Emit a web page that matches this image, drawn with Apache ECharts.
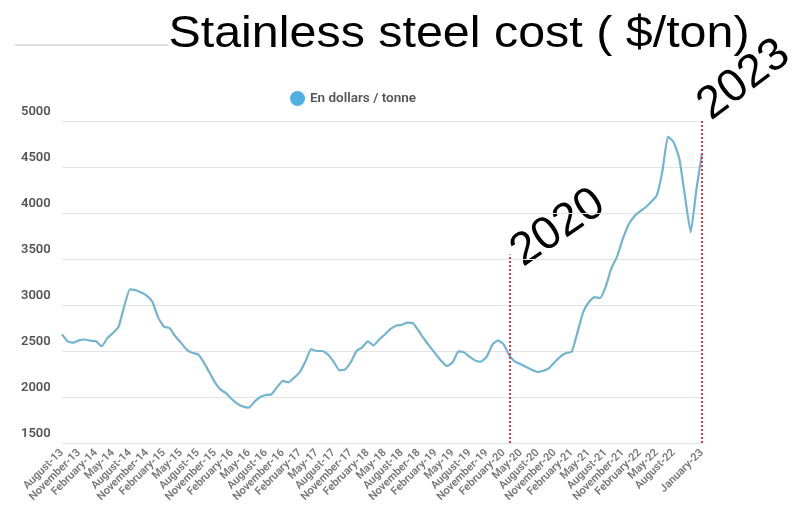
<!DOCTYPE html>
<html>
<head>
<meta charset="utf-8">
<title>Stainless steel cost</title>
<script src="https://cdn.jsdelivr.net/npm/echarts@6/dist/echarts.min.js"></script>
<style>
  html, body { margin: 0; padding: 0; background: #fff; }
  #chart { width: 803px; height: 527px; }
</style>
</head>
<body>
<div id="chart"></div>
<script>
// monthly prices, August 2013 -> January 2023
const prices = [
  2680, 2605, 2590, 2615, 2625, 2612, 2605, 2550, 2640, 2695, 2765, 2990,
  3170, 3160, 3135, 3100, 3030, 2860, 2765, 2750, 2660, 2590, 2515, 2480,
  2465, 2380, 2270, 2160, 2080, 2040, 1975, 1925, 1895, 1885, 1950, 2000,
  2022, 2030, 2110, 2175, 2160, 2210, 2270, 2390, 2520, 2500, 2500, 2460,
  2380, 2290, 2300, 2380, 2500, 2540, 2605, 2560, 2625, 2680, 2740, 2775,
  2785, 2808, 2800, 2715, 2625, 2545, 2465, 2390, 2337, 2380, 2495, 2485,
  2435, 2395, 2385, 2440, 2570, 2615, 2570, 2450, 2385, 2355, 2325, 2295,
  2272, 2285, 2315, 2380, 2440, 2478, 2492, 2700, 2920, 3030, 3085, 3075,
  3200, 3400, 3525, 3715, 3870, 3960, 4015, 4060, 4120, 4190, 4450, 4830,
  4770, 4590, 4180, 3790, 4250, 4650
];

const monthNames = ["January", "February", "March", "April", "May", "June",
  "July", "August", "September", "October", "November", "December"];

// category for every month, e.g. "August-13"
const months = [];
for (let k = 0; k < prices.length; k++) {
  const m = (7 + k) % 12;
  const y = 13 + Math.floor((7 + k) / 12);
  months.push(monthNames[m] + "-" + y);
}

// labels actually printed under the axis
const tickLabels = [
  "August-13", "November-13", "February-14", "May-14", "August-14", "November-14",
  "February-15", "May-15", "August-15", "November-15", "February-16", "May-16",
  "August-16", "November-16", "February-17", "May-17", "August-17", "November-17",
  "February-18", "May-18", "August-18", "November-18", "February-19", "May-19",
  "August-19", "November-19", "February-20", "May-20", "August-20", "November-20",
  "February-21", "May-21", "August-21", "November-21", "February-22", "May-22",
  "August-22", "January-23"
];

const yTicks = [1500, 2000, 2500, 3000, 3500, 4000, 4500, 5000];

// red dotted markers: [month, top value]
const marker2020 = ["March-20", 3550];
const marker2023 = ["January-23", 5000];

const myChart = echarts.init(document.getElementById("chart"));

const shown = new Set(tickLabels);

const option = {
  animation: false,
  backgroundColor: "#fff",
  legend: {
    data: ["En dollars / tonne"],
    left: 285,
    top: 86,
    icon: "circle",
    itemWidth: 15,
    itemHeight: 15,
    itemGap: 8,
    textStyle: {
      fontFamily: "Roboto",
      fontSize: 13.5,
      fontWeight: 600,
      color: "#555"
    }
  },
  grid: {
    left: 62,
    right: 101,
    top: 121,
    bottom: 84,
    outerBoundsMode: "none"
  },
  xAxis: {
    type: "category",
    data: months,
    boundaryGap: false,
    axisLine: { show: false },
    axisTick: { show: false },
    splitLine: { show: false },
    axisLabel: {
      interval: (index, value) => shown.has(value),
      rotate: 45,
      margin: 8,
      fontFamily: "Roboto",
      fontSize: 11,
      fontWeight: 600,
      color: "#777"
    }
  },
  yAxis: {
    type: "value",
    min: yTicks[0],
    max: yTicks[yTicks.length - 1],
    interval: 500,
    axisLine: { show: false },
    axisTick: { show: false },
    splitLine: { lineStyle: { color: "#e4e4e4", width: 1 } },
    axisLabel: {
      formatter: (v) => String(v),
      align: "left",
      verticalAlign: "bottom",
      margin: 41,
      padding: [0, 0, 3, 0],
      fontFamily: "Roboto",
      fontSize: 13,
      fontWeight: 600,
      color: "#555"
    }
  },
  series: [
    {
      name: "En dollars / tonne",
      type: "line",
      data: prices,
      symbol: "none",
      smooth: 0.15,
      itemStyle: { color: "#4fb0e2" },
      lineStyle: { color: "#72b4d2", width: 2.2 },
      markLine: {
        silent: true,
        symbol: "none",
        label: { show: false },
        lineStyle: { color: "#e2384a", type: [2, 2], width: 2 },
        data: [
          [{ coord: [marker2020[0], yTicks[0]] }, { coord: [marker2020[0], marker2020[1]] }],
          [{ coord: [marker2023[0], yTicks[0]] }, { coord: [marker2023[0], marker2023[1]] }]
        ]
      }
    }
  ],
  graphic: [
    {
      type: "line",
      z: -1,
      shape: { x1: 15, y1: 45, x2: 690, y2: 45 },
      style: { stroke: "#dcdcdc", lineWidth: 2 }
    },
    {
      type: "text",
      x: 459,
      y: 35,
      scaleX: 1.1,
      style: {
        text: "Stainless steel cost ( $/ton)",
        font: "44px 'Liberation Sans'",
        fill: "#000",
        backgroundColor: "#fff",
        textAlign: "center",
        textVerticalAlign: "middle"
      }
    },
    {
      type: "text",
      x: 558,
      y: 228,
      rotation: 0.6,
      style: {
        text: "2020",
        font: "46px 'Liberation Sans'",
        fill: "#000",
        textAlign: "center",
        textVerticalAlign: "middle"
      }
    },
    {
      type: "text",
      x: 744,
      y: 80,
      rotation: 0.65,
      style: {
        text: "2023",
        font: "46px 'Liberation Sans'",
        fill: "#000",
        textAlign: "center",
        textVerticalAlign: "middle"
      }
    }
  ]
};

myChart.setOption(option);
</script>
</body>
</html>
